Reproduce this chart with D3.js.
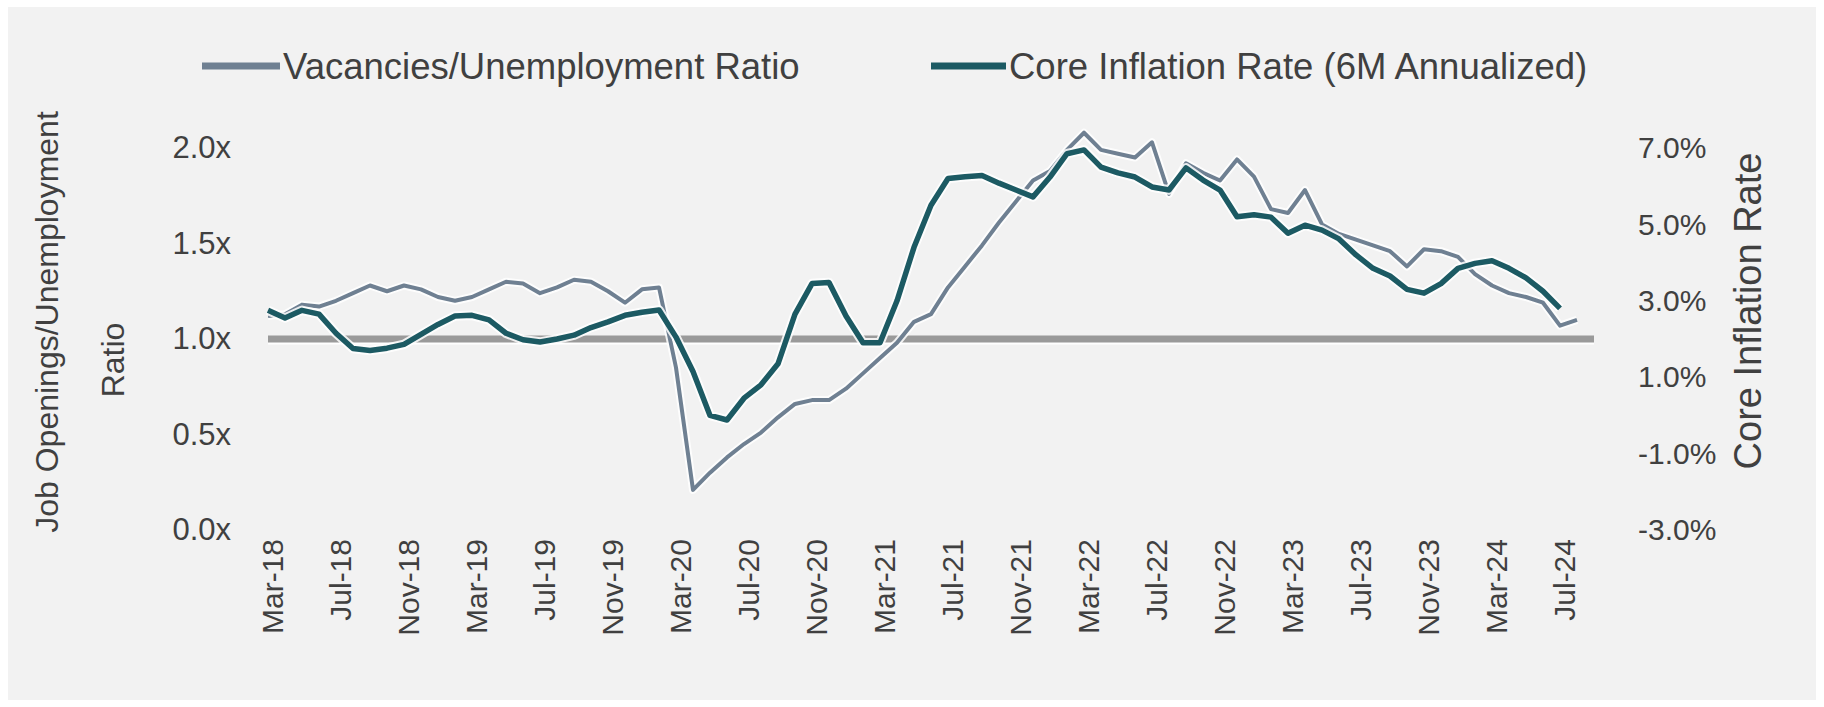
<!DOCTYPE html>
<html>
<head>
<meta charset="utf-8">
<script src="https://cdn.jsdelivr.net/npm/d3@7"></script>
<style>
  html, body { margin: 0; padding: 0; background: #ffffff; }
  svg { display: block; }
  text { font-family: "Liberation Sans", Arial, sans-serif; fill: #404040; }
</style>
</head>
<body>
<svg id="chart" width="1824" height="707"></svg>
<script>
// Monthly categories, Mar-18 through Sep-24
const categories = d3.timeMonth
  .range(new Date(2018, 2, 1), new Date(2024, 9, 1))
  .map(d3.timeFormat("%b-%y"));

// Job openings / unemployed persons (x), Mar-18 .. Aug-24
const vuRatio = [
  1.12, 1.13, 1.18, 1.17, 1.20, 1.24, 1.28, 1.25, 1.28, 1.26,
  1.22, 1.20, 1.22, 1.26, 1.30, 1.29, 1.24, 1.27, 1.31, 1.30,
  1.25, 1.19, 1.26, 1.27, 0.85, 0.21, 0.30, 0.38, 0.45, 0.51,
  0.59, 0.66, 0.68, 0.68, 0.74, 0.82, 0.90, 0.98, 1.09, 1.13,
  1.27, 1.38, 1.49, 1.61, 1.72, 1.83, 1.88, 1.99, 2.08, 1.99,
  1.97, 1.95, 2.03, 1.76, 1.92, 1.87, 1.83, 1.94, 1.85, 1.68,
  1.66, 1.78, 1.60, 1.55, 1.52, 1.49, 1.46, 1.38, 1.47, 1.46,
  1.43, 1.34, 1.28, 1.24, 1.22, 1.19, 1.07, 1.10
];

// Core inflation, 6-month annualized (%), Mar-18 .. Jul-24
const coreInflation = [
  2.75, 2.55, 2.75, 2.65, 2.15, 1.75, 1.70, 1.76, 1.86, 2.12,
  2.38, 2.60, 2.62, 2.50, 2.15, 1.98, 1.92, 2.00, 2.10, 2.30,
  2.45, 2.62, 2.70, 2.76, 2.05, 1.15, 0.00, -0.12, 0.45, 0.80,
  1.35, 2.65, 3.45, 3.48, 2.60, 1.90, 1.90, 3.00, 4.40, 5.50,
  6.20, 6.25, 6.28, 6.08, 5.90, 5.72, 6.24, 6.85, 6.95, 6.50,
  6.35, 6.24, 5.98, 5.90, 6.48, 6.16, 5.90, 5.20, 5.25, 5.19,
  4.77, 4.98, 4.85, 4.62, 4.20, 3.85, 3.65, 3.30, 3.20, 3.45,
  3.85, 3.98, 4.05, 3.85, 3.60, 3.25, 2.80
];

const tickLabels = [
  "Mar-18", "Jul-18", "Nov-18", "Mar-19", "Jul-19", "Nov-19", "Mar-20",
  "Jul-20", "Nov-20", "Mar-21", "Jul-21", "Nov-21", "Mar-22", "Jul-22",
  "Nov-22", "Mar-23", "Jul-23", "Nov-23", "Mar-24", "Jul-24"
];
const ratioTicks = [0, 0.5, 1.0, 1.5, 2.0];
const inflationTicks = [-3, -1, 1, 3, 5, 7];
const parityRatio = 1.0;

const seriesNames = ["Vacancies/Unemployment Ratio", "Core Inflation Rate (6M Annualized)"];
const colors = { ratio: "#6f8092", core: "#1c5a63", parity: "#9a9a9a" };

const svg = d3.select("#chart");

// panel background
svg.append("rect")
  .attr("x", 8).attr("y", 7).attr("width", 1808).attr("height", 693)
  .attr("fill", "#f2f2f2");

const x = d3.scalePoint().domain(categories).range([268, 1594]);
const yL = d3.scaleLinear().domain([0, 2]).range([530, 148]);
const yR = d3.scaleLinear().domain([-3, 7]).range([530, 148]);

// left axis
const leftAxis = svg.append("g")
  .attr("transform", "translate(231,0)")
  .call(d3.axisLeft(yL).tickValues(ratioTicks)
    .tickFormat(d => d3.format(".1f")(d) + "x").tickSize(0).tickPadding(0));
leftAxis.select(".domain").remove();
leftAxis.selectAll("text").style("font-size", "31px").style("font-family", null).attr("fill", null);

// right axis (plain hyphen for negatives)
const rightAxis = svg.append("g")
  .attr("transform", "translate(1638,0)")
  .call(d3.axisRight(yR).tickValues(inflationTicks)
    .tickFormat(d => d3.format(".1f")(d).replace("\u2212", "-") + "%").tickSize(0).tickPadding(0));
rightAxis.select(".domain").remove();
rightAxis.selectAll("text").style("font-size", "30px").style("font-family", null).attr("fill", null);

// bottom axis with rotated month labels
const bottomAxis = svg.append("g")
  .attr("transform", "translate(4,531)")
  .call(d3.axisBottom(x).tickValues(tickLabels).tickSize(0));
bottomAxis.select(".domain").remove();
bottomAxis.selectAll("text")
  .attr("x", -8).attr("y", 0).attr("dy", "0.35em")
  .attr("transform", "rotate(-90)")
  .style("text-anchor", "end")
  .style("font-size", "30px").style("font-family", null).attr("fill", null);

// parity reference line at 1.0x
svg.append("line")
  .attr("x1", x(categories[0])).attr("x2", x(categories[categories.length - 1]))
  .attr("y1", yL(parityRatio) + 4).attr("y2", yL(parityRatio) + 4)
  .attr("stroke", "#ffffff").attr("stroke-width", 3);
svg.append("line")
  .attr("x1", x(categories[0])).attr("x2", x(categories[categories.length - 1]))
  .attr("y1", yL(parityRatio)).attr("y2", yL(parityRatio))
  .attr("stroke", colors.parity).attr("stroke-width", 7);

const ratioLine = d3.line().x((d, i) => x(categories[i])).y(d => yL(d));
const coreLine = d3.line().x((d, i) => x(categories[i])).y(d => yR(d));

function drawSeries(data, gen, color, width) {
  svg.append("path").datum(data)
    .attr("d", gen).attr("fill", "none")
    .attr("stroke", "#ffffff").attr("stroke-opacity", 0.85)
    .attr("stroke-width", width + 4).attr("stroke-linejoin", "round");
  svg.append("path").datum(data)
    .attr("d", gen).attr("fill", "none")
    .attr("stroke", color).attr("stroke-width", width)
    .attr("stroke-linejoin", "round");
}
drawSeries(vuRatio, ratioLine, colors.ratio, 4);
drawSeries(coreInflation, coreLine, colors.core, 5.5);

// legend
const legend = [
  { name: seriesNames[0], color: colors.ratio, x1: 202, x2: 280 },
  { name: seriesNames[1], color: colors.core, x1: 931, x2: 1006 }
];
legend.forEach(l => {
  svg.append("line").attr("x1", l.x1).attr("x2", l.x2).attr("y1", 66).attr("y2", 66)
    .attr("stroke", l.color).attr("stroke-width", 7);
  svg.append("text").attr("x", l.x2 + 3).attr("y", 79)
    .style("font-size", "36.5px").text(l.name);
});

// axis titles
svg.append("text")
  .attr("transform", "translate(0,322) rotate(-90)")
  .attr("text-anchor", "middle")
  .attr("x", 0).attr("y", 47).attr("dy", "0.35em")
  .style("font-size", "32px")
  .text("Job Openings/Unemployment");
svg.append("text")
  .attr("transform", "translate(0,360) rotate(-90)")
  .attr("text-anchor", "middle")
  .attr("x", 0).attr("y", 113).attr("dy", "0.35em")
  .style("font-size", "32px")
  .text("Ratio");

svg.append("text")
  .attr("transform", "translate(0,311) rotate(-90)")
  .attr("text-anchor", "middle")
  .attr("x", 0).attr("y", 1748).attr("dy", "0.35em")
  .style("font-size", "38px")
  .text("Core Inflation Rate");
</script>
</body>
</html>
